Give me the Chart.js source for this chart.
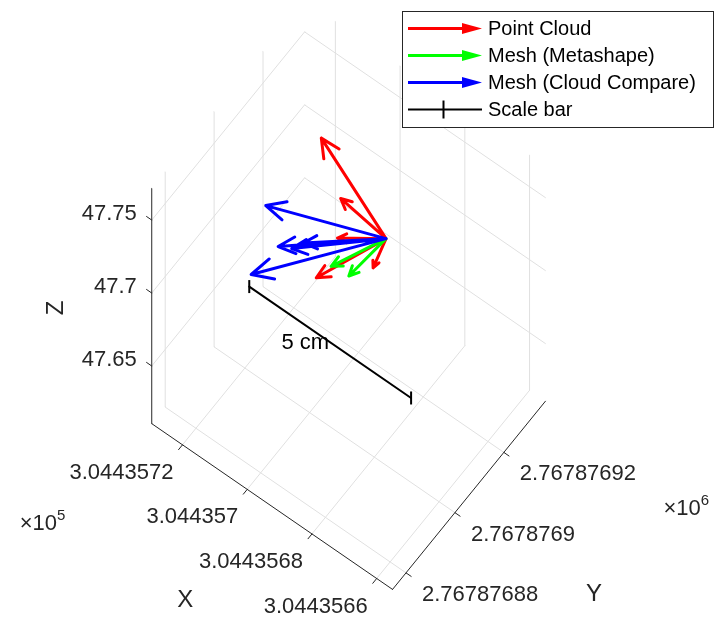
<!DOCTYPE html>
<html>
<head>
<meta charset="utf-8">
<script src="https://cdn.jsdelivr.net/npm/chart.js@4.4.1/dist/chart.umd.min.js"></script>
<style>
html, body { margin: 0; padding: 0; background: #fff; }
canvas { display: block; }
</style>
</head>
<body>
<canvas id="quiver-chart" width="720" height="628"></canvas>
<script>
// axis limits and ticks (metres)
var xLim = [304435.6551, 304435.7295];
var yLim = [2767876.8745, 2767876.9370];
var zLim = [47.6105, 47.7717];
var xTicks = [304435.72, 304435.70, 304435.68, 304435.66];
var xTickLabels = ['3.0443572', '3.044357', '3.0443568', '3.0443566'];
var yTicks = [2767876.88, 2767876.90, 2767876.92];
var yTickLabels = ['2.76787688', '2.7678769', '2.76787692'];
var zTicks = [47.65, 47.7, 47.75];
var zTickLabels = ['47.65', '47.7', '47.75'];

// common origin of all vectors
var origin = [304435.6915, 2767876.9200, 47.7014];

// Point Cloud vectors
var pcU = [0.0243, 0.0131, 0.0087, 0.0002, 0.0097];
var pcV = [0.0057, -0.0012, -0.0170, -0.0050, -0.0070];
var pcW = [0.020, 0.010, -0.005, -0.010, 0.000];
// Mesh (Metashape)
var msU = [0.0076, 0.0037];
var msV = [-0.0124, -0.0103];
var msW = [-0.005, -0.010];
// Mesh (Cloud Compare)
var ccU = [0.0268, 0.0233, 0.0201, 0.0159, 0.0145];
var ccV = [-0.0137, -0.0243, -0.0175, -0.0175, -0.0146];
var ccW = [0.010, -0.010, 0.000, 0.005, 0.005];

// scale bar, 5 cm along x
var scaleStart = [304435.72, 2767876.9018, 47.6626];
var scaleLength = 0.05;
var scaleLabel = '5 cm';

var seriesNames = ['Point Cloud', 'Mesh (Metashape)', 'Mesh (Cloud Compare)', 'Scale bar'];
var seriesColors = ['#ff0000', '#00ff00', '#0000ff', '#000000'];

var FONT = "'Liberation Sans', Arial, Helvetica, sans-serif";
var AX = '#262626';

// orthographic view: pixels per metre along x, y, z; corner (xmax, ymin, zmin) sits at c0
var view = { c0: [146.7, 426.7], ex: [-3315, -2290], ey: [2505, -3095], ez: [0, -1500] };
function proj(p) {
  var dx = p[0] - xLim[1], dy = p[1] - yLim[0], dz = p[2] - zLim[0];
  return {
    x: view.c0[0] + dx * view.ex[0] + dy * view.ey[0] + dz * view.ez[0],
    y: view.c0[1] + dx * view.ex[1] + dy * view.ey[1] + dz * view.ez[1]
  };
}
function gap() { return { x: NaN, y: NaN }; }
function segs(list) {
  var out = [];
  list.forEach(function (s) { out.push(proj(s[0]), proj(s[1]), gap()); });
  return out;
}

function arrows(U, V, W) {
  var out = [];
  var a = proj(origin);
  for (var i = 0; i < U.length; i++) {
    var b = proj([origin[0] + U[i], origin[1] + V[i], origin[2] + W[i]]);
    var ang = Math.atan2(b.y - a.y, b.x - a.x);
    var h = 0.15 * Math.hypot(b.x - a.x, b.y - a.y) + 3, s = 0.45;
    out.push({ x: a.x, y: a.y }, { x: b.x, y: b.y }, gap());
    out.push({ x: b.x - h * Math.cos(ang - s), y: b.y - h * Math.sin(ang - s) }, { x: b.x, y: b.y },
             { x: b.x - h * Math.cos(ang + s), y: b.y - h * Math.sin(ang + s) }, gap());
  }
  return out;
}

// grid on the back planes
var gridSegs = [];
xTicks.forEach(function (x) {
  gridSegs.push([[x, yLim[0], zLim[0]], [x, yLim[1], zLim[0]]]);
  gridSegs.push([[x, yLim[1], zLim[0]], [x, yLim[1], zLim[1]]]);
});
yTicks.forEach(function (y) {
  gridSegs.push([[xLim[1], y, zLim[0]], [xLim[0], y, zLim[0]]]);
  gridSegs.push([[xLim[1], y, zLim[0]], [xLim[1], y, zLim[1]]]);
});
zTicks.forEach(function (z) {
  gridSegs.push([[xLim[1], yLim[0], z], [xLim[1], yLim[1], z]]);
  gridSegs.push([[xLim[1], yLim[1], z], [xLim[0], yLim[1], z]]);
});

// axis lines and tick marks
var tl = 0.0016;
var axisSegs = [
  [[xLim[1], yLim[0], zLim[0]], [xLim[1], yLim[0], zLim[1]]],
  [[xLim[1], yLim[0], zLim[0]], [xLim[0], yLim[0], zLim[0]]],
  [[xLim[0], yLim[0], zLim[0]], [xLim[0], yLim[1], zLim[0]]]
];
xTicks.forEach(function (x) { axisSegs.push([[x, yLim[0], zLim[0]], [x, yLim[0] - tl, zLim[0]]]); });
yTicks.forEach(function (y) { axisSegs.push([[xLim[0], y, zLim[0]], [xLim[0] - tl, y, zLim[0]]]); });
zTicks.forEach(function (z) { axisSegs.push([[xLim[1], yLim[0], z], [xLim[1] + tl, yLim[0], z]]); });

var scaleEnd = [scaleStart[0] - scaleLength, scaleStart[1], scaleStart[2]];

function lineSet(label, data, color, width) {
  return { label: label, data: data, showLine: true, borderColor: color, borderWidth: width,
           pointRadius: 0, pointHoverRadius: 0, spanGaps: false, clip: false,
           borderCapStyle: 'round', borderJoinStyle: 'round' };
}

var datasets = [
  lineSet(seriesNames[2], arrows(ccU, ccV, ccW), seriesColors[2], 3),
  lineSet(seriesNames[1], arrows(msU, msV, msW), seriesColors[1], 3),
  lineSet(seriesNames[0], arrows(pcU, pcV, pcW), seriesColors[0], 3),
  Object.assign(lineSet(seriesNames[3], [proj(scaleStart), proj(scaleEnd)], seriesColors[3], 2),
    { pointStyle: 'line', pointRotation: 90, pointRadius: 6.5, pointBorderWidth: 2, pointBorderColor: '#000' }),
  lineSet('axes', segs(axisSegs), AX, 1),
  lineSet('grid', segs(gridSegs), '#e0e0e0', 1)
];

function text(ctx, s, x, y, size, align, color) {
  ctx.font = size + 'px ' + FONT;
  ctx.textAlign = align;
  ctx.textBaseline = 'middle';
  ctx.fillStyle = color || AX;
  ctx.fillText(s, x, y);
}
function power(ctx, base, exp, x, y) {
  ctx.font = '22px ' + FONT;
  ctx.textAlign = 'left';
  ctx.textBaseline = 'alphabetic';
  ctx.fillStyle = AX;
  ctx.fillText(base, x, y);
  var w = ctx.measureText(base).width;
  ctx.font = '15px ' + FONT;
  ctx.fillText(exp, x + w, y - 10);
}

var labelsPlugin = {
  id: 'axisText',
  afterDatasetsDraw: function (chart) {
    var ctx = chart.ctx, sx = chart.scales.x, sy = chart.scales.y;
    function px(p) { var q = proj(p); return { x: sx.getPixelForValue(q.x), y: sy.getPixelForValue(q.y) }; }
    ctx.save();
    xTicks.forEach(function (x, i) {
      var p = px([x, yLim[0], zLim[0]]);
      text(ctx, xTickLabels[i], p.x - 9, p.y + 28, 22, 'right');
    });
    yTicks.forEach(function (y, i) {
      var p = px([xLim[0], y, zLim[0]]);
      text(ctx, yTickLabels[i], p.x + 16, p.y + 22, 22, 'left');
    });
    zTicks.forEach(function (z, i) {
      var p = px([xLim[1], yLim[0], z]);
      text(ctx, zTickLabels[i], p.x - 15, p.y - 6, 22, 'right');
    });
    var a = px([xLim[1], yLim[0], zLim[0]]), b = px([xLim[0], yLim[0], zLim[0]]);
    var c = px([xLim[0], yLim[1], zLim[0]]), t = px([xLim[1], yLim[0], zLim[1]]);
    text(ctx, 'X', (a.x + b.x) / 2 - 87, (a.y + b.y) / 2 + 94, 24, 'center');
    text(ctx, 'Y', (b.x + c.x) / 2 + 125, (b.y + c.y) / 2 + 99, 24, 'center');
    ctx.save();
    ctx.translate(a.x - 95, (a.y + t.y) / 2 + 2);
    ctx.rotate(-Math.PI / 2);
    text(ctx, 'Z', 0, 0, 24, 'center');
    ctx.restore();
    power(ctx, '\u00d710', '5', a.x - 132, a.y + 106);
    power(ctx, '\u00d710', '6', c.x + 118, c.y + 114);
    // scale bar label
    var m = px([scaleStart[0] - scaleLength / 2, scaleStart[1], scaleStart[2]]);
    text(ctx, scaleLabel, m.x - 1, m.y + 1, 22, 'right', '#000');
    ctx.restore();
  }
};

var legendPlugin = {
  id: 'arrowLegend',
  afterDraw: function (chart) {
    var ctx = chart.ctx;
    var left = 402, top = 11, w = 311, h = 116, rowH = 27;
    ctx.save();
    ctx.fillStyle = '#fff';
    ctx.fillRect(left, top, w, h);
    ctx.strokeStyle = AX;
    ctx.lineWidth = 1;
    ctx.strokeRect(left + 0.5, top + 0.5, w, h);
    seriesNames.forEach(function (name, i) {
      var y = top + 17.5 + i * rowH;
      ctx.strokeStyle = seriesColors[i];
      ctx.fillStyle = seriesColors[i];
      if (i < 3) {
        ctx.lineWidth = 3;
        ctx.beginPath(); ctx.moveTo(408, y); ctx.lineTo(466, y); ctx.stroke();
        ctx.beginPath(); ctx.moveTo(462, y - 5.5); ctx.lineTo(482, y); ctx.lineTo(462, y + 5.5); ctx.closePath(); ctx.fill();
      } else {
        ctx.lineWidth = 2;
        ctx.beginPath(); ctx.moveTo(408, y); ctx.lineTo(482, y); ctx.stroke();
        ctx.beginPath(); ctx.moveTo(443.5, y - 9); ctx.lineTo(443.5, y + 9); ctx.stroke();
      }
      text(ctx, name, 488, y + 1, 20, 'left', '#000');
    });
    ctx.restore();
  }
};

new Chart(document.getElementById('quiver-chart'), {
  type: 'scatter',
  data: { datasets: datasets },
  options: {
    responsive: false,
    animation: false,
    layout: { padding: 0 },
    scales: {
      x: { type: 'linear', display: false, min: 0, max: 720 },
      y: { type: 'linear', display: false, min: 0, max: 628, reverse: true }
    },
    plugins: { legend: { display: false }, tooltip: { enabled: false } }
  },
  plugins: [labelsPlugin, legendPlugin]
});
</script>
</body>
</html>
